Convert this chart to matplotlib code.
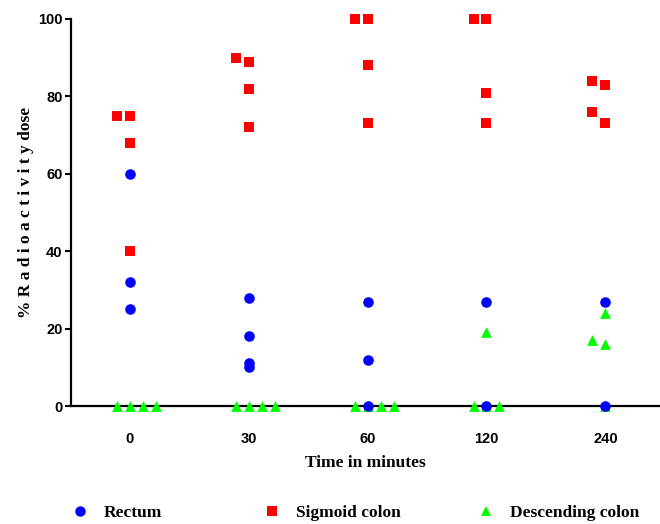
import matplotlib
matplotlib.use("Agg")
import matplotlib.pyplot as plt
from matplotlib.lines import Line2D

times = ["0", "30", "60", "120", "240"]

rectum = [
    [60, 32, 25],
    [28, 18, 11, 10],
    [27, 12, 0],
    [27, 0],
    [27, 0],
]
sigmoid = [
    [75, 75, 68, 40],
    [89, 90, 82, 72],
    [100, 100, 88, 73],
    [100, 100, 81, 73],
    [73, 76, 83, 84],
]
descending = [
    [0, 0, 0, 0],
    [0, 0, 0, 0],
    [0, 0, 0, 0],
    [19, 0, 0, 0],
    [24, 16, 17, 0],
]

y_ticks = [0, 20, 40, 60, 80, 100]


def spread(values, thresh=3.5, step=0.109):
    """Column-scatter style horizontal spreading of overlapping points."""
    placed = []
    offs = []
    for v in values:
        for k in [0, -1, 1, 2, -2, 3, -3]:
            if all(not (abs(v - pv) < thresh and pk == k) for pv, pk in placed):
                break
        placed.append((v, k))
        offs.append(k * step)
    return offs


fig = plt.figure(figsize=(6.6, 5.24), dpi=100)
ax = fig.add_axes([71 / 660, 1 - 406 / 524, 1 - 71 / 660, (406 - 19) / 524])

series = [
    ("Descending colon", descending, "^", "#00FF00", 60, 1, 3.5),
    ("Sigmoid colon", sigmoid, "s", "#FF0000", 55, 2, 3.5),
    ("Rectum", rectum, "o", "#0000FF", 58, 3, 0.5),
]

for name, data, mk, col, sz, z, th in series:
    xs, ys = [], []
    for i, vals in enumerate(data):
        offs = spread(vals, thresh=th)
        for v, o in zip(vals, offs):
            xs.append(i + o)
            ys.append(v)
    ax.scatter(xs, ys, marker=mk, s=sz, color=col, linewidths=0,
               clip_on=False, zorder=z + 3)

ax.set_xlim(-0.496, 4.46)
ax.set_ylim(0, 100)
ax.set_xticks(range(len(times)))
ax.set_xticklabels(times)
ax.set_yticks(y_ticks)
ax.set_yticklabels([str(t) for t in y_ticks])

for s in ["top", "right"]:
    ax.spines[s].set_visible(False)
for s in ["left", "bottom"]:
    ax.spines[s].set_linewidth(1.6)
    ax.spines[s].set_color("black")

ax.tick_params(axis="y", direction="out", length=4, width=1.5, pad=2)
ax.tick_params(axis="x", length=0, pad=19)
for lab in ax.get_xticklabels() + ax.get_yticklabels():
    lab.set_fontfamily("Liberation Sans")
    lab.set_fontweight("bold")
    lab.set_fontsize(10.5)

ax.set_xlabel("Time in minutes", fontfamily="Liberation Serif",
              fontweight="bold", fontsize=12.5, labelpad=6)
ax.set_ylabel("% R a d i o a c t i v i t y dose", fontfamily="Liberation Serif",
              fontweight="bold", fontsize=12.5, labelpad=3)

# legend entries
leg_items = [
    ("Rectum", "o", "#0000FF", 80),
    ("Sigmoid colon", "s", "#FF0000", 272),
    ("Descending colon", "^", "#00FF00", 486),
]
for label, mk, col, xpx in leg_items:
    h = Line2D([], [], marker=mk, color=col, linestyle="none", markersize=7.5,
               markeredgewidth=0)
    fig.legend([h], [label], loc="center left",
               bbox_to_anchor=((xpx - 9) / 660, 1 - 513 / 524),
               frameon=False, handlelength=1.0, handletextpad=0.9,
               borderpad=0, borderaxespad=0,
               prop={"family": "Liberation Serif", "weight": "bold",
                     "size": 12.5})

fig.savefig("out.png", dpi=100)
